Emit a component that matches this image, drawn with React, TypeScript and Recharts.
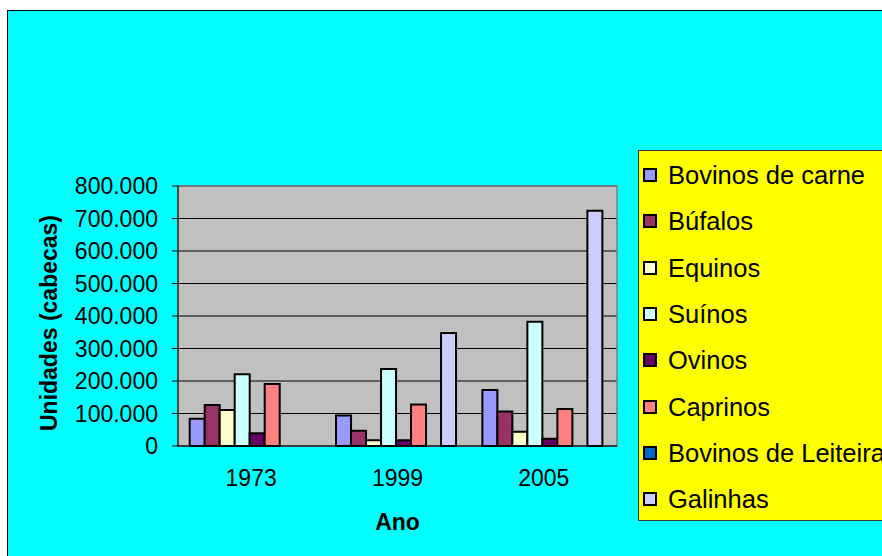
import { BarChart, Bar, XAxis, YAxis, CartesianGrid, ReferenceArea, Label } from 'recharts';

const YEARS = ['1973', '1999', '2005'];

const SERIES_NAMES = [
  'Bovinos de carne',
  'Búfalos',
  'Equinos',
  'Suínos',
  'Ovinos',
  'Caprinos',
  'Bovinos de Leiteira',
  'Galinhas',
];

const SERIES_COLORS = ['#9999FF', '#993366', '#FFFFCC', '#CCFFFF', '#660066', '#FF8080', '#0066CC', '#CCCCFF'];

// valores, um array por série (1973, 1999, 2005)
const bovinosCarne = [84000, 94000, 172000];
const bufalos = [126000, 47000, 106000];
const equinos = [111000, 18000, 44000];
const suinos = [221000, 237000, 382000];
const ovinos = [39000, 18000, 22000];
const caprinos = [191000, 128000, 114000];
const bovinosLeiteira = [0, 0, 0];
const galinhas = [0, 348000, 724000];

const SERIES_VALUES = [bovinosCarne, bufalos, equinos, suinos, ovinos, caprinos, bovinosLeiteira, galinhas];

const Y_TICKS = [0, 100000, 200000, 300000, 400000, 500000, 600000, 700000, 800000];
const CATEGORY_EDGES = [0, 1, 2, 3];

const FONT = '"Liberation Sans", Arial, sans-serif';

const chartData = YEARS.map((year, i) => {
  const row: Record<string, string | number> = { ano: year };
  SERIES_NAMES.forEach((name, s) => {
    row[name] = SERIES_VALUES[s][i];
  });
  return row;
});

const formatThousands = (v: number) => String(v).replace(/\B(?=(\d{3})+(?!\d))/g, '.');

const YLabel = (props: any) => {
  const vb = props.viewBox || { x: 28, y: 186, width: 150, height: 260 };
  const cx = vb.x + 21;
  const cy = vb.y + vb.height / 2 + 7;
  return (
    <text
      x={cx}
      y={cy}
      transform={`rotate(-90 ${cx} ${cy})`}
      textAnchor="middle"
      dominantBaseline="central"
      fontWeight="bold"
      fontSize={23}
      fontFamily={FONT}
      fill="#000"
    >
      Unidades (cabecas)
    </text>
  );
};

const NoTick = () => <g />;

const App = () => {
  return (
    <div style={{ position: 'absolute', left: 0, top: 0, width: 882, height: 556, overflow: 'hidden', background: '#fff', fontFamily: FONT }}>
      <div
        style={{
          position: 'absolute',
          left: 7,
          top: 10,
          width: 900,
          height: 600,
          border: '1px solid #000',
          background: '#00FFFF',
        }}
      />
      <div style={{ position: 'absolute', left: 0, top: 0 }}>
        <BarChart
          width={882}
          height={556}
          data={chartData}
          margin={{ top: 186, right: 265, left: 28, bottom: 24 }}
          barCategoryGap="8%"
          barGap={0}
        >
          <CartesianGrid horizontal vertical={false} stroke="#000" fill="#C0C0C0" fillOpacity={1} />
          <ReferenceArea y1={0} y2={800000} fill="none" stroke="#808080" strokeWidth={1.5} />
          <XAxis
            xAxisId="edges"
            type="number"
            domain={[0, 3]}
            ticks={CATEGORY_EDGES}
            tick={<NoTick />}
            axisLine={false}
            tickLine={{ stroke: '#000' }}
            tickSize={6}
            height={0}
          />
          <XAxis
            dataKey="ano"
            axisLine={{ stroke: '#000' }}
            tickLine={false}
            tickSize={6}
            tickMargin={18}
            height={86}
            tick={{ fill: '#000', fontSize: 23, fontFamily: FONT }}
          >
            <Label value="Ano" position="insideBottom" offset={2} fontWeight="bold" fontSize={23} fill="#000" fontFamily={FONT} />
          </XAxis>
          <YAxis
            width={150}
            domain={[0, 800000]}
            ticks={Y_TICKS}
            tickFormatter={formatThousands}
            axisLine={{ stroke: '#000' }}
            tickLine={{ stroke: '#000' }}
            tickSize={6}
            tickMargin={14}
            tick={{ fill: '#000', fontSize: 23, fontFamily: FONT }}
          >
            <Label content={YLabel} />
          </YAxis>
          {SERIES_NAMES.map((name, s) => (
            <Bar
              key={name}
              dataKey={name}
              fill={SERIES_COLORS[s]}
              stroke="#000"
              strokeWidth={2}
              isAnimationActive={false}
            />
          ))}
        </BarChart>
      </div>
      <div
        style={{
          position: 'absolute',
          left: 638,
          top: 150,
          width: 260,
          height: 369,
          background: '#FFFF00',
          border: '1px solid #333',
        }}
      >
        {SERIES_NAMES.map((name, s) => (
          <div
            key={name}
            style={{
              position: 'absolute',
              left: 4,
              top: 24 + s * 46.3 - 15,
              height: 30,
              display: 'flex',
              alignItems: 'center',
              whiteSpace: 'nowrap',
            }}
          >
            <span
              style={{
                display: 'inline-block',
                width: 10,
                height: 10,
                border: '2px solid #000',
                background: SERIES_COLORS[s],
                marginRight: 11,
              }}
            />
            <span style={{ fontSize: 25.5, color: '#000', lineHeight: '30px' }}>{name}</span>
          </div>
        ))}
      </div>
    </div>
  );
};

export default App;
